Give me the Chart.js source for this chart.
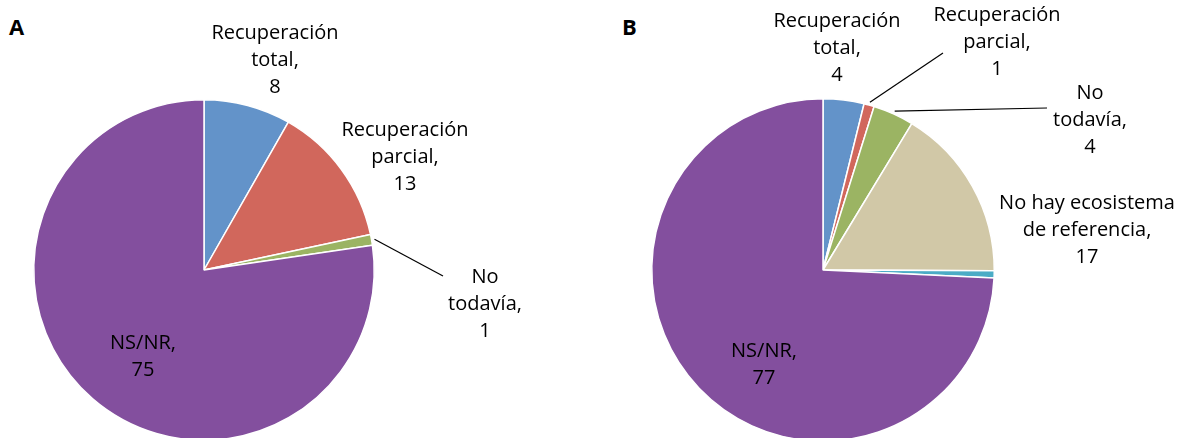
<!DOCTYPE html>
<html>
<head>
<meta charset="utf-8">
<script src="https://cdn.jsdelivr.net/npm/chart.js@4/dist/chart.umd.min.js"></script>
<style>
  body { margin: 0; background: #fff; overflow: hidden; width: 1182px; height: 438px; position: relative; }
  canvas { position: absolute; top: 0; }
  .panel { position: absolute; top: 11px; font: bold 22px "Open Sans", sans-serif; color: #000; }
</style>
</head>
<body>
<div class="panel" style="left:9px">A</div>
<div class="panel" style="left:622px">B</div>
<canvas id="pieA" width="591" height="460" style="left:0"></canvas>
<canvas id="pieB" width="591" height="460" style="left:591px"></canvas>
<script>
// Datos panel A
var categoriasA = ["Recuperación total", "Recuperación parcial", "No todavía", "NS/NR"];
var valoresA = [8, 13, 1, 75];
var coloresA = ["#6393C9", "#D1675C", "#9BB463", "#834F9E"];

// Datos panel B (el último trozo sin etiqueta es una estimación)
var categoriasB = ["Recuperación total", "Recuperación parcial", "No todavía", "No hay ecosistema de referencia", "", "NS/NR"];
var valoresB = [4, 1, 4, 17, 0.7, 77];
var coloresB = ["#6393C9", "#D1675C", "#9BB463", "#D1C8A7", "#4BACC6", "#834F9E"];

// Como partir cada etiqueta en lineas
var lineasA = [["Recuperación", "total,"], ["Recuperación", "parcial,"], ["No", "todavía,"], ["NS/NR,"]];
var lineasB = [["Recuperación", "total,"], ["Recuperación", "parcial,"], ["No", "todavía,"], ["No hay ecosistema", "de referencia,"], null, ["NS/NR,"]];

// Posicion de las etiquetas (centro de la primera linea, en px del canvas) y fin de la linea guia
var posA = [{x: 275, y: 33}, {x: 405, y: 130}, {x: 485, y: 277, lead: [443, 276]}, {x: 143, y: 343}];
var posB = [{x: 246, y: 21}, {x: 406, y: 15, lead: [352, 53]}, {x: 499, y: 93, lead: [456, 108]}, {x: 496, y: 203}, null, {x: 173, y: 351}];

var config = {
  pieA: { lineas: lineasA, pos: posA },
  pieB: { lineas: lineasB, pos: posB }
};

var etiquetas = {
  id: 'etiquetas',
  afterDraw: function(chart) {
    var cfg = config[chart.canvas.id];
    var ctx = chart.ctx;
    var meta = chart.getDatasetMeta(0);
    var valores = chart.data.datasets[0].data;
    ctx.save();
    ctx.font = '20px "Open Sans", sans-serif';
    ctx.fillStyle = '#000';
    ctx.textAlign = 'center';
    ctx.textBaseline = 'middle';
    meta.data.forEach(function(arc, i) {
      var p = cfg.pos[i];
      if (!p || !cfg.lineas[i]) return;
      var lineas = cfg.lineas[i].concat([String(valores[i])]);
      lineas.forEach(function(t, k) {
        ctx.fillText(t, p.x, p.y + k * 27);
      });
      if (p.lead) {
        var mid = (arc.startAngle + arc.endAngle) / 2;
        var r = arc.outerRadius + 3;
        ctx.strokeStyle = '#000';
        ctx.lineWidth = 1.2;
        ctx.beginPath();
        ctx.moveTo(arc.x + Math.cos(mid) * r, arc.y + Math.sin(mid) * r);
        ctx.lineTo(p.lead[0], p.lead[1]);
        ctx.stroke();
      }
    });
    ctx.restore();
  }
};

function crearPie(id, categorias, valores, colores, padding) {
  return new Chart(document.getElementById(id), {
    type: 'pie',
    data: {
      labels: categorias,
      datasets: [{
        data: valores,
        backgroundColor: colores,
        borderColor: '#fff',
        borderWidth: 1.5
      }]
    },
    options: {
      responsive: false,
      animation: false,
      layout: { padding: padding },
      plugins: {
        legend: { display: false },
        tooltip: { enabled: false }
      }
    },
    plugins: [etiquetas]
  });
}

crearPie('pieA', categoriasA, valoresA, coloresA, {left: 33, right: 216, top: 99, bottom: 19});
crearPie('pieB', categoriasB, valoresB, coloresB, {left: 60, right: 187, top: 98, bottom: 18});
</script>
</body>
</html>
